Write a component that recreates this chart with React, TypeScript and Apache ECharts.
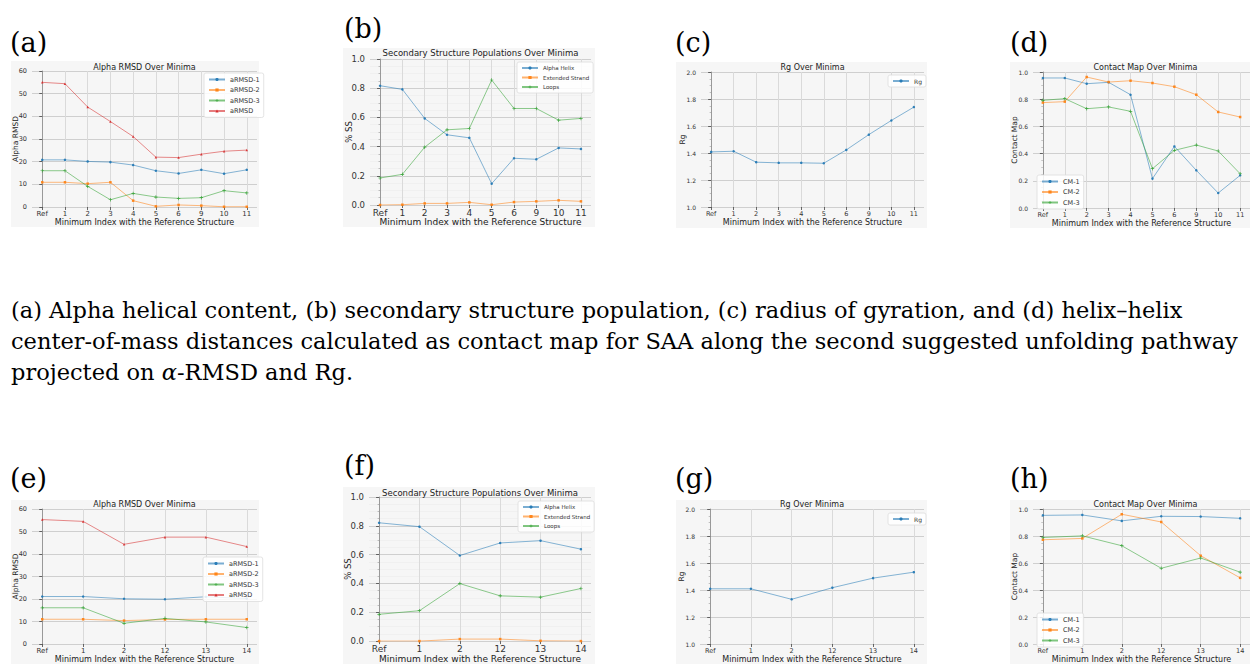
import React, { useEffect, useRef } from "react";
import * as echarts from "echarts";

// ---------- data ----------
const catsTop = ["Ref", "1", "2", "3", "4", "5", "6", "9", "10", "11"];
const catsBottom = ["Ref", "1", "2", "12", "13", "14"];

// (a) Alpha RMSD
const aRmsd1A = [20.8, 20.8, 20.1, 19.8, 18.5, 16.0, 14.8, 16.4, 14.7, 16.4];
const aRmsd2A = [10.9, 10.9, 10.3, 10.9, 2.8, 0.3, 0.9, 0.6, 0.1, 0.1];
const aRmsd3A = [16.0, 16.0, 9.1, 3.2, 6.0, 4.4, 3.8, 4.1, 7.2, 6.2];
const aRmsdA = [55.0, 54.4, 44.1, 37.7, 31.1, 22.0, 21.8, 23.3, 24.6, 25.1];
// (b) Secondary structure
const helixB = [0.817, 0.792, 0.593, 0.481, 0.46, 0.146, 0.32, 0.313, 0.391, 0.384];
const strandB = [0.0, 0.002, 0.011, 0.011, 0.018, 0.002, 0.02, 0.025, 0.032, 0.025];
const loopsB = [0.185, 0.21, 0.396, 0.515, 0.524, 0.856, 0.661, 0.661, 0.581, 0.593];
// (c) Rg
const rgC = [1.408, 1.413, 1.332, 1.327, 1.327, 1.324, 1.423, 1.536, 1.641, 1.74];
// (d) Contact map
const cm1D = [0.956, 0.956, 0.914, 0.924, 0.833, 0.216, 0.453, 0.277, 0.11, 0.24];
const cm2D = [0.775, 0.782, 0.963, 0.926, 0.936, 0.919, 0.892, 0.833, 0.706, 0.669];
const cm3D = [0.792, 0.804, 0.73, 0.743, 0.711, 0.289, 0.424, 0.463, 0.419, 0.252];
// (e) Alpha RMSD
const aRmsd1E = [21.1, 21.1, 20.1, 19.9, 21.0, 20.2];
const aRmsd2E = [11.0, 11.0, 10.4, 10.9, 11.0, 11.0];
const aRmsd3E = [16.1, 16.1, 9.2, 11.4, 9.8, 7.3];
const aRmsdE = [55.3, 54.5, 44.3, 47.5, 47.5, 43.3];
// (f) Secondary structure
const helixF = [0.821, 0.794, 0.594, 0.681, 0.697, 0.638];
const strandF = [0.0, 0.0, 0.014, 0.014, 0.002, 0.0];
const loopsF = [0.186, 0.211, 0.399, 0.314, 0.305, 0.365];
// (g) Rg
const rgG = [1.409, 1.409, 1.331, 1.417, 1.488, 1.532];
// (h) Contact map
const cm1H = [0.953, 0.956, 0.912, 0.946, 0.944, 0.931];
const cm2H = [0.772, 0.782, 0.961, 0.904, 0.654, 0.49];
const cm3H = [0.789, 0.801, 0.728, 0.561, 0.637, 0.532];

const captionLine1 =
  "(a) Alpha helical content, (b) secondary structure population, (c) radius of gyration, and (d) helix\u2013helix";
const captionLine2 =
  "center-of-mass distances calculated as contact map for SAA along the second suggested unfolding pathway";

// ---------- styles ----------
const BLUE = "#1f77b4";
const ORANGE = "#ff7f0e";
const GREEN = "#2ca02c";
const RED = "#d62728";
const PLUS = "path://M4,0H6V4H10V6H6V10H4V6H0V4H4Z";
const SANS = "DejaVu Sans";
const SERIF = "DejaVu Serif";
const XNAME = "Minimum Index with the Reference Structure";

type S = { name: string; color: string; symbol: string; vals: number[] };

const rmsd = (v1: number[], v2: number[], v3: number[], v4: number[]): S[] => [
  { name: "aRMSD-1", color: BLUE, symbol: "circle", vals: v1 },
  { name: "aRMSD-2", color: ORANGE, symbol: "rect", vals: v2 },
  { name: "aRMSD-3", color: GREEN, symbol: PLUS, vals: v3 },
  { name: "aRMSD", color: RED, symbol: "triangle", vals: v4 },
];
const ss = (v1: number[], v2: number[], v3: number[]): S[] => [
  { name: "Alpha Helix", color: BLUE, symbol: "circle", vals: v1 },
  { name: "Extended Strand", color: ORANGE, symbol: "rect", vals: v2 },
  { name: "Loops", color: GREEN, symbol: PLUS, vals: v3 },
];
const cm = (v1: number[], v2: number[], v3: number[]): S[] => [
  { name: "CM-1", color: BLUE, symbol: "circle", vals: v1 },
  { name: "CM-2", color: ORANGE, symbol: "rect", vals: v2 },
  { name: "CM-3", color: GREEN, symbol: PLUS, vals: v3 },
];

const panels = [
  { label: "(a)", lx: 10, ly: 42, cats: catsTop, g: [32, 71, 225, 136], bg: [11, 61, 248, 166], title: "Alpha RMSD Over Minima", ty: 67, tf: 8, yName: "Alpha RMSD", gap: 13, yMin: 0, yMax: 60, yInt: 10, dec: 0, minor: false, fine: false, tick: 6.5, nf: 8, xGap: 11, leg: [204, 73], lf: 6.5, series: rmsd(aRmsd1A, aRmsd2A, aRmsd3A, aRmsdA) },
  { label: "(b)", lx: 344, ly: 28, cats: catsTop, g: [370, 59, 221, 146], bg: [343, 48, 252, 179], title: "Secondary Structure Populations Over Minima", ty: 53, tf: 8.5, yName: "% SS", gap: 17, yMin: 0, yMax: 1, yInt: 0.2, dec: 1, minor: true, fine: true, tick: 8.5, nf: 9, xGap: 12, leg: [517, 62], lf: 5.5, series: ss(helixB, strandB, loopsB) },
  { label: "(c)", lx: 675, ly: 42, cats: catsTop, g: [701, 72, 223, 135], bg: [676, 62, 251, 166], title: "Rg Over Minima", ty: 67, tf: 8, yName: "Rg", gap: 15, yMin: 1, yMax: 2, yInt: 0.2, dec: 1, minor: true, fine: false, tick: 6, nf: 8, xGap: 11, leg: [888, 75], lf: 6, series: [{ name: "Rg", color: BLUE, symbol: "circle", vals: rgC }] },
  { label: "(d)", lx: 1010, ly: 42, cats: catsTop, g: [1033, 72, 225, 136], bg: [1010, 62, 240, 166], title: "Contact Map Over Minima", ty: 67, tf: 8, yName: "Contact Map", gap: 15, yMin: 0, yMax: 1, yInt: 0.2, dec: 1, minor: true, fine: false, tick: 6, nf: 8, xGap: 11, leg: [1037, 175], lf: 6.5, series: cm(cm1D, cm2D, cm3D) },
  { label: "(e)", lx: 10, ly: 478, cats: catsBottom, g: [32, 509, 225, 136], bg: [11, 500, 248, 164], title: "Alpha RMSD Over Minima", ty: 504, tf: 8, yName: "Alpha RMSD", gap: 13, yMin: 0, yMax: 60, yInt: 10, dec: 0, minor: false, fine: false, tick: 6.5, nf: 8, xGap: 11, leg: [203, 557], lf: 6.5, series: rmsd(aRmsd1E, aRmsd2E, aRmsd3E, aRmsdE) },
  { label: "(f)", lx: 344, ly: 465, cats: catsBottom, g: [369, 497, 222, 146], bg: [343, 487, 252, 177], title: "Secondary Structure Populations Over Minima", ty: 493, tf: 8.5, yName: "% SS", gap: 17, yMin: 0, yMax: 1, yInt: 0.2, dec: 1, minor: true, fine: true, tick: 8.5, nf: 9, xGap: 12, leg: [518, 501], lf: 5.5, series: ss(helixF, strandF, loopsF) },
  { label: "(g)", lx: 675, ly: 478, cats: catsBottom, g: [700, 509, 224, 136], bg: [676, 500, 251, 164], title: "Rg Over Minima", ty: 504, tf: 8, yName: "Rg", gap: 15, yMin: 1, yMax: 2, yInt: 0.2, dec: 1, minor: true, fine: false, tick: 6, nf: 8, xGap: 11, leg: [888, 513], lf: 6, series: [{ name: "Rg", color: BLUE, symbol: "circle", vals: rgG }] },
  { label: "(h)", lx: 1010, ly: 478, cats: catsBottom, g: [1033, 509, 225, 136], bg: [1010, 500, 240, 164], title: "Contact Map Over Minima", ty: 504, tf: 8, yName: "Contact Map", gap: 15, yMin: 0, yMax: 1, yInt: 0.2, dec: 1, minor: true, fine: false, tick: 6, nf: 8, xGap: 11, leg: [1037, 613], lf: 6.5, series: cm(cm1H, cm2H, cm3H) },
];

function buildOption() {
  const grid: any[] = [];
  const xAxis: any[] = [];
  const yAxis: any[] = [];
  const series: any[] = [];
  const legend: any[] = [];
  const graphic: any[] = [];

  panels.forEach((p, i) => {
    const n = p.cats.length;
    const pad = 0.05 * (n - 1);
    const idx = p.cats.map((_, k) => k);
    grid.push({ left: p.g[0], top: p.g[1], width: p.g[2], height: p.g[3], containLabel: false });
    xAxis.push({
      type: "value",
      gridIndex: i,
      min: -pad,
      max: n - 1 + pad,
      axisLine: { show: false },
      axisTick: { show: true, customValues: idx, length: 3, lineStyle: { color: "#444", width: 0.8 } },
      axisLabel: {
        customValues: idx,
        formatter: (v: number) => p.cats[Math.round(v)],
        fontSize: p.tick + 0.5,
        color: "#333",
        margin: 3,
        fontFamily: SANS,
      },
      splitLine: { show: true, lineStyle: { color: "#dadada", width: 1 } },
      name: XNAME,
      nameLocation: "middle",
      nameGap: p.xGap,
      nameTextStyle: { fontSize: p.nf, color: "#222", fontFamily: SANS },
    });
    yAxis.push({
      type: "value",
      gridIndex: i,
      min: p.yMin,
      max: p.yMax,
      interval: p.yInt,
      axisLine: { show: true, lineStyle: { color: "#888", width: 0.8 } },
      axisTick: { show: true, length: 3, lineStyle: { color: "#444", width: 0.8 } },
      minorTick: { show: p.minor, splitNumber: 4, length: 1.5, lineStyle: { color: "#999", width: 0.6 } },
      axisLabel: {
        formatter: (v: number) => v.toFixed(p.dec),
        fontSize: p.tick,
        color: "#333",
        margin: 5,
        fontFamily: SANS,
      },
      splitLine: { show: true, lineStyle: { color: "#cfcfcf", width: 1 } },
      minorSplitLine: { show: p.fine, lineStyle: { color: "#ececec", width: 0.6 } },
      name: p.yName,
      nameLocation: "middle",
      nameGap: p.gap,
      nameMoveOverlap: false,
      nameTextStyle: { fontSize: p.nf - 0.5, color: "#222", fontFamily: SANS },
    });
    p.series.forEach((s) => {
      series.push({
        type: "line",
        name: s.name,
        xAxisIndex: i,
        yAxisIndex: i,
        data: s.vals.map((v, k) => [k, v]),
        symbol: s.symbol,
        symbolSize: s.symbol === PLUS ? 3.5 : 2.5,
        showSymbol: true,
        lineStyle: { width: 0.9, color: s.color, opacity: 0.6 },
        itemStyle: { color: s.color, opacity: 0.9 },
        emphasis: { disabled: true },
        z: 3,
      });
    });
    legend.push({
      data: p.series.map((s) => s.name),
      left: p.leg[0],
      top: p.leg[1],
      orient: "vertical",
      itemWidth: 16,
      itemHeight: 4,
      itemGap: 3.5,
      padding: [3, 4, 3, 4],
      backgroundColor: "rgba(255,255,255,0.85)",
      borderColor: "#dddddd",
      borderWidth: 0.8,
      borderRadius: 2,
      textStyle: { fontSize: p.lf, color: "#333", fontFamily: SANS },
      selectedMode: false,
    });
    graphic.push({
      type: "rect",
      shape: { x: p.bg[0], y: p.bg[1], width: p.bg[2], height: p.bg[3] },
      style: { fill: "#f6f6f6" },
      z: -10,
      silent: true,
    });
    graphic.push({
      type: "text",
      x: p.g[0] + p.g[2] / 2,
      y: p.ty,
      style: { text: p.title, fontSize: p.tf, fill: "#222", fontFamily: SANS, align: "center", verticalAlign: "middle" },
      z: 10,
    });
    graphic.push({
      type: "text",
      x: p.lx,
      y: p.ly,
      style: { text: p.label, fontSize: 27, fill: "#000", fontFamily: SERIF, align: "left", verticalAlign: "middle" },
      z: 10,
    });
  });

  const CAP = 22.5;
  graphic.push({
    type: "text",
    x: 11,
    y: 310,
    style: { text: captionLine1, fontSize: CAP, fill: "#000", fontFamily: SERIF, align: "left", verticalAlign: "middle" },
    z: 10,
  });
  graphic.push({
    type: "text",
    x: 11,
    y: 341,
    style: { text: captionLine2, fontSize: CAP, fill: "#000", fontFamily: SERIF, align: "left", verticalAlign: "middle" },
    z: 10,
  });
  graphic.push({
    type: "text",
    x: 11,
    y: 372,
    style: {
      text: "{n|projected on }{i|\u03b1}{n|-RMSD and Rg.}",
      rich: {
        n: { fontSize: CAP, fill: "#000", fontFamily: SERIF },
        i: { fontSize: CAP, fill: "#000", fontFamily: SERIF, fontStyle: "italic" },
      },
      align: "left",
      verticalAlign: "middle",
    },
    z: 10,
  });

  return {
    animation: false,
    backgroundColor: "#ffffff",
    textStyle: { fontFamily: SANS },
    grid,
    xAxis,
    yAxis,
    series,
    legend,
    graphic: { elements: graphic },
  };
}

export default function App() {
  const ref = useRef<HTMLDivElement>(null);
  useEffect(() => {
    if (!ref.current) return;
    const chart = echarts.init(ref.current, undefined, { renderer: "svg" });
    chart.setOption(buildOption() as any);
    return () => chart.dispose();
  }, []);
  return (
    <div
      ref={ref}
      style={{ position: "absolute", left: 0, top: 0, width: 1250, height: 664, overflow: "hidden" }}
    />
  );
}
